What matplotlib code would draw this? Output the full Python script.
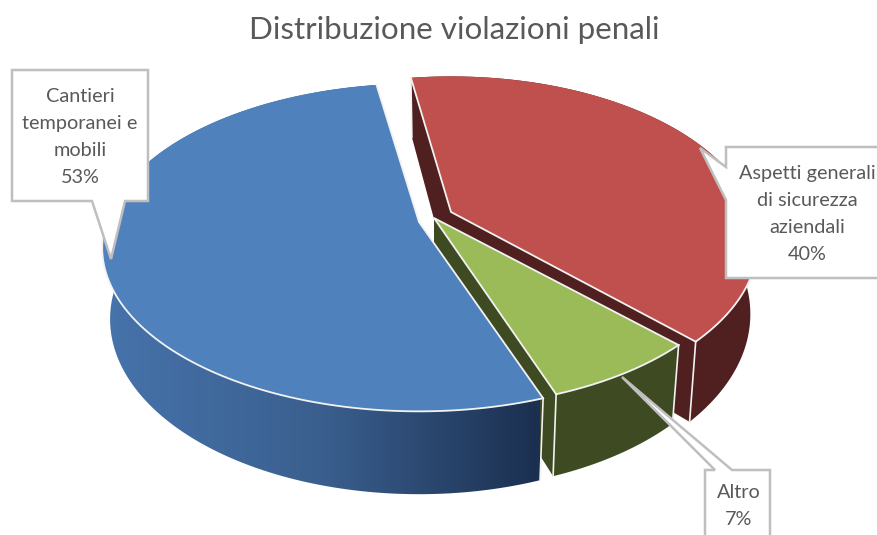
import numpy as np
import matplotlib
matplotlib.use('Agg')
import matplotlib.pyplot as plt
from matplotlib.patches import Polygon
from matplotlib.colors import LinearSegmentedColormap

title = 'Distribuzione violazioni penali'
# excel order, clockwise
labels = ['Aspetti generali\ndi sicurezza\naziendali', 'Altro', 'Cantieri\ntemporanei e\nmobili']
values = [40, 7, 53]
top_colors = ['#c0504d', '#9bbb59', '#4f81bd']
side_colors = ['#4f201f', '#3e4b22', '#2c4a73']

# layout of the fake 3d pie, in pixels of the picture
start_deg = -9
apex_x = [451, 434, 419]
apex_y = [212, 218, 222]
rx = [302, 308, 313]
persp = [0.18, 0.155, 0.155]
ry = 160
depth, shrink = 70, 0.975
text_col = '#595959'
box_col = '#bfbfbf'

plt.rcParams['font.family'] = ['Lato', 'DejaVu Sans']
fig = plt.figure(figsize=(8.77, 5.35), dpi=100)
ax = fig.add_axes([0, 0, 1, 1])
ax.set_xlim(0, 877)
ax.set_ylim(535, 0)
ax.axis('off')


def top_pt(theta, i):
    w = 1 + persp[i] * np.cos(theta)
    return apex_x[i] + rx[i] * np.sin(theta) / w, apex_y[i] - ry * np.cos(theta) / w


def bottom_pt(theta, i):
    w = 1 + persp[i] * np.cos(theta)
    return apex_x[i] + shrink * rx[i] * np.sin(theta) / w, apex_y[i] - ry * np.cos(theta) / w + depth / w


angles = np.radians(start_deg + np.cumsum([0] + values) * 3.6)

for i in range(len(values)):
    th = np.linspace(angles[i], angles[i + 1], 200)
    tx, ty = top_pt(th, i)
    bx, by = bottom_pt(th, i)
    ax0, ay0 = apex_x[i], apex_y[i]
    drop = depth

    # outer wall
    wall = np.column_stack([np.r_[tx, bx[::-1]], np.r_[ty, by[::-1]]])
    if i == 2:
        cmap = LinearSegmentedColormap.from_list('wall', ['#4673ab', '#3a5f8e', '#1b2f50'])
        im = ax.imshow(np.linspace(0, 1, 256)[None, :], extent=[105, 540, 535, 0], cmap=cmap, aspect='auto', zorder=i * 3 + 1)
        im.set_clip_path(Polygon(wall, transform=ax.transData))
    else:
        # cut walls
        ax.add_patch(Polygon([(ax0, ay0), (tx[0], ty[0]), (bx[0], by[0]), (ax0, ay0 + drop)], fc=side_colors[i], ec='none', zorder=i * 3 + 1))
        ax.add_patch(Polygon([(ax0, ay0), (tx[-1], ty[-1]), (bx[-1], by[-1]), (ax0, ay0 + drop)], fc=side_colors[i], ec='none', zorder=i * 3 + 1))
        ax.add_patch(Polygon(wall, fc=side_colors[i], ec='none', zorder=i * 3 + 1))

    # white edges of the walls
    for k in (0, -1):
        ax.plot([tx[k], bx[k]], [ty[k], by[k]], color='#f2f2f2', lw=1.2, zorder=i * 3 + 2)

    # top face
    top = np.column_stack([np.r_[ax0, tx], np.r_[ay0, ty]])
    ax.add_patch(Polygon(top, fc=top_colors[i], ec='none', zorder=i * 3 + 3))
    ax.plot(np.r_[tx[0], ax0, tx[-1]], np.r_[ty[0], ay0, ty[-1]], color='#f2f2f2', lw=1.3, zorder=i * 3 + 3)
    front = np.cos(th) < 0.1
    ax.plot(tx[front], ty[front], color='#f2f2f2', lw=1.3, zorder=i * 3 + 3)

# data callouts
box_kw = dict(fc='white', ec=box_col, lw=1.8, zorder=20, joinstyle='miter')
ax.add_patch(Polygon([(12, 70), (148, 70), (148, 201), (125, 201), (111, 259), (92, 201), (12, 201)], **box_kw))
ax.add_patch(Polygon([(726, 147), (890, 147), (890, 278), (726, 278), (726, 200), (700, 148), (726, 167)], **box_kw))
ax.add_patch(Polygon([(705, 470), (715, 470), (622, 377), (732, 470), (770, 470), (770, 545), (705, 545)], **box_kw))

txt = dict(ha='center', va='center', color=text_col, fontsize=14.3, linespacing=1.72, zorder=21)
ax.text(80, 137, f'{labels[2]}\n{values[2]}%', **txt)
ax.text(807, 214, f'{labels[0]}\n{values[0]}%', clip_on=True, **txt)
ax.text(739, 506, f'{labels[1]}\n{values[1]}%', clip_on=True, **txt)

ax.text(454, 30, title, ha='center', va='center', color=text_col, fontsize=22.6)

fig.savefig('out.png', dpi=100)
